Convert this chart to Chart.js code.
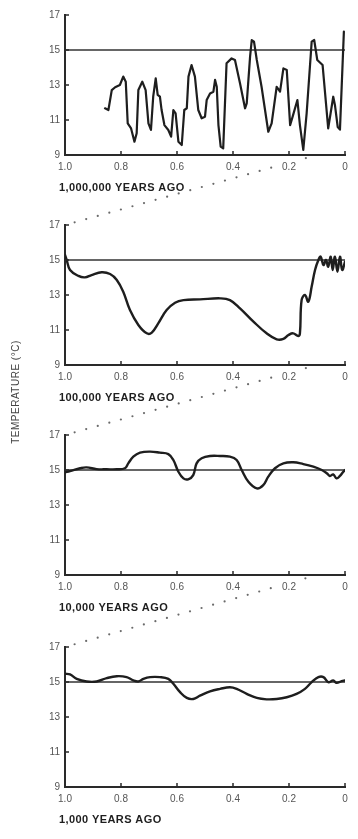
<!DOCTYPE html>
<html><head><meta charset="utf-8">
<script src="https://cdn.jsdelivr.net/npm/chart.js@4.4.1/dist/chart.umd.min.js"></script>
<style>
html,body{margin:0;padding:0;background:#fff;}
#wrap{position:relative;width:358px;height:839px;overflow:hidden;background:#fff;}
#wrap canvas{position:absolute;left:0;}
</style></head><body><div id="wrap"></div>
<script>
// ---- data ----
const X_TICKS = [1.0, 0.8, 0.6, 0.4, 0.2, 0];
const X_TICK_LABELS = ['1.0', '0.8', '0.6', '0.4', '0.2', '0'];
const Y_TICKS = [9, 11, 13, 15, 17];
const TITLES = ['1,000,000 YEARS AGO', '100,000 YEARS AGO', '10,000 YEARS AGO', '1,000 YEARS AGO'];
const Y_TITLE = 'TEMPERATURE (°C)';
const BASELINE = 15;
const ZOOM_FROM = 0.1;

const p1Age = [0.857,0.845,0.833,0.821,0.804,0.792,0.783,0.776,0.764,0.752,0.744,0.738,0.724,0.712,0.702,0.693,0.685,0.676,0.669,0.661,0.655,0.645,0.631,0.621,0.613,0.605,0.595,0.583,0.574,0.565,0.559,0.548,0.536,0.524,0.512,0.5,0.494,0.482,0.47,0.464,0.458,0.452,0.444,0.435,0.423,0.405,0.393,0.375,0.357,0.351,0.339,0.333,0.325,0.315,0.298,0.274,0.262,0.244,0.232,0.22,0.208,0.196,0.187,0.17,0.161,0.149,0.137,0.119,0.11,0.099,0.08,0.06,0.042,0.036,0.026,0.018,0.004];
const p1Temp = [11.67,11.57,12.71,12.87,13.0,13.48,13.19,10.81,10.52,9.76,10.24,12.71,13.19,12.71,10.81,10.43,12.33,13.38,12.43,12.33,11.57,10.71,10.43,10.05,11.57,11.38,9.76,9.57,11.57,11.67,13.48,14.14,13.48,11.57,11.1,11.19,12.14,12.52,12.62,13.29,12.9,10.71,9.48,9.38,14.24,14.52,14.43,13.1,11.67,11.95,14.62,15.57,15.48,14.43,12.9,10.33,10.81,12.9,12.62,13.95,13.86,10.71,11.19,12.14,10.71,9.29,11.38,15.48,15.57,14.43,14.14,10.52,12.33,11.86,10.6,10.45,16.05];

const p2Age = [1.0,0.994,0.982,0.952,0.929,0.905,0.869,0.839,0.815,0.792,0.768,0.738,0.708,0.69,0.667,0.637,0.607,0.577,0.518,0.446,0.411,0.375,0.327,0.28,0.244,0.22,0.202,0.185,0.167,0.161,0.155,0.143,0.131,0.119,0.107,0.095,0.087,0.077,0.068,0.06,0.051,0.044,0.036,0.027,0.018,0.01,0.0];
const p2Temp = [15.29,15.0,14.43,14.09,14.01,14.14,14.3,14.2,13.86,13.19,12.14,11.29,10.81,10.85,11.38,12.14,12.56,12.71,12.75,12.81,12.71,12.24,11.48,10.81,10.47,10.49,10.71,10.81,10.66,10.81,12.71,13.0,12.62,13.48,14.43,15.0,15.19,14.71,15.0,14.62,15.19,14.43,15.19,14.33,15.19,14.43,14.9];

const p3Age = [1.0,0.982,0.946,0.923,0.887,0.851,0.815,0.786,0.774,0.756,0.732,0.696,0.661,0.631,0.613,0.595,0.577,0.56,0.542,0.53,0.512,0.482,0.446,0.411,0.387,0.369,0.345,0.315,0.292,0.274,0.25,0.22,0.185,0.149,0.113,0.083,0.065,0.054,0.042,0.03,0.018,0.006,0.0];
const p3Temp = [14.87,14.94,15.1,15.15,15.05,15.04,15.04,15.1,15.38,15.76,15.99,16.05,15.99,15.91,15.57,14.9,14.52,14.47,14.71,15.38,15.67,15.8,15.8,15.76,15.57,15.0,14.33,13.95,14.14,14.62,15.1,15.38,15.44,15.34,15.19,15.0,14.81,14.66,14.75,14.52,14.66,14.9,15.0];

const p4Age = [1.0,0.982,0.958,0.923,0.887,0.851,0.815,0.78,0.756,0.738,0.72,0.696,0.661,0.631,0.613,0.589,0.565,0.542,0.518,0.482,0.446,0.411,0.387,0.351,0.315,0.28,0.244,0.208,0.173,0.143,0.119,0.095,0.077,0.06,0.042,0.03,0.012,0.0];
const p4Temp = [15.47,15.43,15.18,15.03,15.03,15.22,15.33,15.28,15.09,15.03,15.18,15.28,15.28,15.18,14.9,14.42,14.09,14.03,14.22,14.47,14.61,14.7,14.61,14.32,14.09,14.01,14.03,14.13,14.32,14.61,14.99,15.28,15.28,14.99,15.09,14.95,15.05,15.09];

// ---- layout / style ----
const PANEL_TOPS = [0, 210, 420, 632];
const FONT = '"Liberation Sans", Arial, Helvetica, sans-serif';
Chart.defaults.font.family = FONT;
const INK = '#1e1e1e';
const wrap = document.getElementById('wrap');

function panelDecor(i) {
  return {
    id: 'decor' + i,
    afterDraw(chart) {
      const {ctx, chartArea: a, scales: {x, y}} = chart;
      ctx.save();
      ctx.strokeStyle = '#2a2a2a';
      ctx.lineWidth = 1.5;
      ctx.beginPath();
      X_TICKS.forEach(v => {
        if (v === X_TICKS[0]) return;
        const px = x.getPixelForValue(v);
        ctx.moveTo(px, a.bottom); ctx.lineTo(px, a.bottom - 4);
      });
      Y_TICKS.forEach(v => {
        const py = y.getPixelForValue(v);
        ctx.moveTo(a.left, py); ctx.lineTo(a.left + 4, py);
      });
      ctx.stroke();
      ctx.font = 'bold 11px ' + FONT;
      try { ctx.letterSpacing = '0.4px'; } catch (e) {}
      ctx.fillStyle = INK;
      ctx.textAlign = 'left';
      ctx.textBaseline = 'middle';
      ctx.fillText(TITLES[i], a.left - 6, a.bottom + 33);
      ctx.restore();
    }
  };
}

function makePanel(i, ages, temps, smooth) {
  const c = document.createElement('canvas');
  c.width = 358; c.height = 200;
  c.style.width = '358px'; c.style.height = '200px';
  c.style.top = PANEL_TOPS[i] + 'px';
  wrap.appendChild(c);
  return new Chart(c, {
    type: 'line',
    data: {
      datasets: [
        {
          data: ages.map((a, k) => ({x: a, y: temps[k]})),
          borderColor: INK, borderWidth: smooth ? 2.4 : 2.2, pointRadius: 0,
          tension: smooth ? 0.4 : 0,
          borderJoinStyle: 'round', borderCapStyle: 'round'
        },
        {
          data: [{x: X_TICKS[0], y: BASELINE}, {x: X_TICKS[X_TICKS.length - 1], y: BASELINE}],
          borderColor: '#333', borderWidth: 1.5, pointRadius: 0
        }
      ]
    },
    options: {
      responsive: false, animation: false, events: [],
      devicePixelRatio: 1,
      layout: {padding: {top: 15, right: 13, left: 0, bottom: 0}},
      plugins: {legend: {display: false}, tooltip: {enabled: false}},
      scales: {
        x: {
          type: 'linear', reverse: true, min: 0, max: 1,
          afterBuildTicks: s => { s.ticks = X_TICKS.map(v => ({value: v})); },
          afterFit: s => { s.height = 45; },
          ticks: {
            callback: v => X_TICK_LABELS[X_TICKS.indexOf(v)],
            color: '#555', font: {size: 10}, padding: 6, maxRotation: 0, autoSkip: false
          },
          grid: {display: false, drawTicks: false},
          border: {display: true, color: '#2a2a2a', width: 2}
        },
        y: {
          min: 9, max: 17,
          afterBuildTicks: s => { s.ticks = Y_TICKS.map(v => ({value: v})); },
          afterFit: s => { s.width = 65; },
          ticks: {color: '#555', font: {size: 10}, padding: 5, callback: v => String(v)},
          grid: {display: false, drawTicks: false},
          border: {display: true, color: '#2a2a2a', width: 2}
        }
      }
    },
    plugins: [panelDecor(i)]
  });
}

const charts = [
  makePanel(0, p1Age, p1Temp, false),
  makePanel(1, p2Age, p2Temp, true),
  makePanel(2, p3Age, p3Temp, true),
  makePanel(3, p4Age, p4Temp, true)
];

// ---- overlay: zoom connectors and shared y title ----
const ov = document.createElement('canvas');
ov.width = 358; ov.height = 839;
ov.style.top = '0px'; ov.style.pointerEvents = 'none';
wrap.appendChild(ov);
const octx = ov.getContext('2d');
octx.fillStyle = '#6a6a6a';
for (let k = 0; k < charts.length - 1; k++) {
  const A = charts[k], B = charts[k + 1];
  const x0 = A.scales.x.getPixelForValue(ZOOM_FROM);
  const y0 = A.scales.y.getPixelForValue(Y_TICKS[0]) + PANEL_TOPS[k];
  const x1 = B.scales.x.getPixelForValue(X_TICKS[0]);
  const y1 = B.scales.y.getPixelForValue(Y_TICKS[Y_TICKS.length - 1]) + PANEL_TOPS[k + 1];
  const lx = A.scales.x.getPixelForValue(0.2), ly = y0 + 12;
  const len = Math.hypot(x0 - x1, y0 - y1);
  for (let d = 10; d < len - 2; d += 12) {
    const px = x1 + (x0 - x1) * d / len, py = y1 + (y0 - y1) * d / len;
    if (Math.abs(px - lx) < 11 && Math.abs(py - ly) < 8) continue;
    octx.beginPath(); octx.arc(px, py, 1.1, 0, Math.PI * 2); octx.fill();
  }
}
octx.save();
octx.translate(16, 392);
octx.rotate(-Math.PI / 2);
octx.font = '10px ' + FONT;
try { octx.letterSpacing = '0.5px'; } catch (e) {}
octx.fillStyle = '#444';
octx.textAlign = 'center';
octx.textBaseline = 'middle';
octx.fillText(Y_TITLE, 0, 0);
octx.restore();
</script></body></html>
